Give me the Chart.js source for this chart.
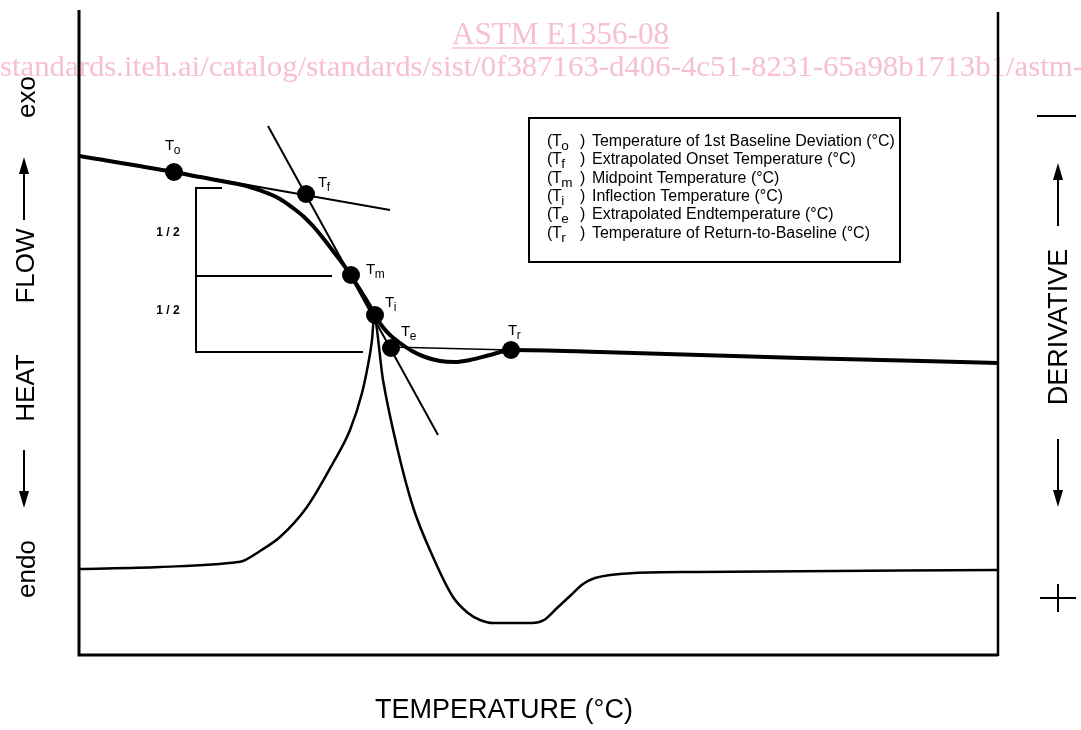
<!DOCTYPE html>
<html><head><meta charset="utf-8">
<script src="https://cdn.jsdelivr.net/npm/chart.js@4.4.0/dist/chart.umd.min.js"></script>
<style>html,body{margin:0;padding:0;background:#fff;overflow:hidden}canvas{display:block}</style>
</head><body>
<canvas id="c" width="1081" height="730" style="width:1081px;height:730px"></canvas>
<script>
// ---- values (arbitrary temperature / signal units) ----
const heatFlowT = [0,9.5,12.1,14.8,17.1,18.8,20.1,21.4,22.4,23.4,24.4,25.4,26.4,27.3,28.3,29.1,29.6,30.3,31.1,32.1,33.3,34.6,36.1,37.6,39.1,41.1,43.2,52.1,62.1,72.1,91.9];
const heatFlowY = [49.9,48.3,47.8,47.3,46.8,46.2,45.6,44.7,43.9,42.9,41.7,40.4,39.1,37.8,36.2,34.9,34.0,32.9,32.0,31.2,30.4,29.8,29.4,29.3,29.5,30.0,30.5,30.3,30.0,29.7,29.2];
const derivT = [0,8.1,15.9,16.4,18.1,20.1,22.8,25.4,27.1,28.3,28.9,29.3,29.5,30.4,31.8,33.4,35.4,37.4,38.9,40.1,41.4,45.3,46.5,47.8,49.1,50.4,51.6,55.5,61.8,91.9];
const derivY = [8.6,8.8,9.3,9.4,10.4,11.8,14.8,19.2,22.5,26.2,29.0,31.5,33.7,27.5,20.8,14.8,9.8,5.8,4.2,3.5,3.2,3.2,3.5,4.7,5.9,7.1,7.7,8.2,8.3,8.5];
const markerSubs = ['o','f','m','i','e','r'];
const markerT = [9.5,22.7,27.2,29.6,31.2,43.2];
const markerY = [48.3,46.1,38.0,34.0,30.7,30.5];
const onsetTangentT = [9.5,31.1];
const onsetTangentY = [48.3,44.5];
const steepTangentT = [18.9,35.9];
const steepTangentY = [52.9,22.0];
const endBaselineT = [31.1,43.2];
const endBaselineY = [30.8,30.5];
const bracketT = [14.3,11.7,11.7,28.4];
const bracketY = [46.7,46.7,30.3,30.3];
const halfLineT = [11.7,25.3];
const halfLineY = [37.9,37.9];
const halfLabel = '1 / 2';
const legendTexts = [
  'Temperature of 1st Baseline Deviation (°C)',
  'Extrapolated Onset Temperature (°C)',
  'Midpoint Temperature (°C)',
  'Inflection Temperature (°C)',
  'Extrapolated Endtemperature (°C)',
  'Temperature of Return-to-Baseline (°C)'
];
const xTitle = 'TEMPERATURE (°C)';
const leftWords = ['endo','HEAT','FLOW','exo'];
const rightWord = 'DERIVATIVE';
const stampTitle = 'ASTM E1356-08';
const stampUrl = 'standards.iteh.ai/catalog/standards/sist/0f387163-d406-4c51-8231-65a98b1713b1/astm-';

const pts = (xs, ys) => xs.map((x, i) => ({x: x, y: ys[i]}));
const SANS = '"Liberation Sans", Arial, Helvetica, sans-serif';
const SERIF = '"Liberation Serif", "Times New Roman", serif';

function arrow(ctx, x, yTail, yHead) {
  const dir = yHead > yTail ? 1 : -1;
  ctx.beginPath(); ctx.moveTo(x, yTail); ctx.lineTo(x, yHead - dir * 12); ctx.stroke();
  ctx.beginPath(); ctx.moveTo(x, yHead); ctx.lineTo(x - 5, yHead - dir * 17); ctx.lineTo(x + 5, yHead - dir * 17); ctx.closePath(); ctx.fill();
}
function rot(ctx, text, cx, cy, font) {
  ctx.save(); ctx.translate(cx, cy); ctx.rotate(-Math.PI / 2);
  ctx.font = font; ctx.textAlign = 'center'; ctx.textBaseline = 'middle';
  ctx.fillText(text, 0, 0); ctx.restore();
}
function tSub(ctx, x, y, sub, big, small) {
  ctx.textAlign = 'left'; ctx.textBaseline = 'alphabetic';
  ctx.font = big + 'px ' + SANS; ctx.fillText('T', x, y);
  const w = ctx.measureText('T').width;
  ctx.font = small + 'px ' + SANS; ctx.fillText(sub, x + w - 0.5, y + 4);
  return x + w + ctx.measureText(sub).width;
}

const deco = {
  id: 'deco',
  beforeDraw(chart) {
    const ctx = chart.ctx;
    ctx.save();
    ctx.fillStyle = '#fff'; ctx.fillRect(0, 0, chart.width, chart.height);
    ctx.fillStyle = 'rgb(247,192,206)'; ctx.strokeStyle = 'rgb(247,192,206)';
    ctx.textBaseline = 'alphabetic'; ctx.textAlign = 'left';
    ctx.font = '31px ' + SERIF;
    let w = ctx.measureText(stampTitle).width;
    ctx.save(); ctx.translate(452, 44); ctx.scale(217 / w, 1); ctx.fillText(stampTitle, 0, 0); ctx.restore();
    ctx.lineWidth = 1.5; ctx.beginPath(); ctx.moveTo(452, 48); ctx.lineTo(669, 48); ctx.stroke();
    ctx.font = '29px ' + SERIF;
    w = ctx.measureText(stampUrl).width;
    ctx.save(); ctx.translate(0, 76); ctx.scale(1083 / w, 1); ctx.fillText(stampUrl, 0, 0); ctx.restore();
    ctx.restore();
  },
  afterDraw(chart) {
    const ctx = chart.ctx, ca = chart.chartArea;
    const xs = chart.scales.x, ys = chart.scales.y;
    ctx.save();
    ctx.strokeStyle = '#000'; ctx.fillStyle = '#000';
    ctx.lineWidth = 3;
    ctx.beginPath(); ctx.moveTo(ca.left, ca.top); ctx.lineTo(ca.left, ca.bottom); ctx.lineTo(ca.right, ca.bottom); ctx.stroke();
    ctx.lineWidth = 2.5;
    ctx.beginPath(); ctx.moveTo(ca.right, ca.top + 2); ctx.lineTo(ca.right, ca.bottom + 1); ctx.stroke();

    const bx = xs.getPixelForValue(bracketT[1]);
    const yA = ys.getPixelForValue(bracketY[0]), yB = ys.getPixelForValue(halfLineY[0]), yC = ys.getPixelForValue(bracketY[2]);
    ctx.font = 'bold 12px ' + SANS; ctx.textAlign = 'center'; ctx.textBaseline = 'middle';
    ctx.fillText(halfLabel, bx - 28, (yA + yB) / 2 + 1);
    ctx.fillText(halfLabel, bx - 28, (yB + yC) / 2 - 3);

    const offs = [[-9,-22],[12,-7],[15,-1],[10,-8],[10,-12],[-3,-15]];
    markerSubs.forEach((s, i) => {
      const px = xs.getPixelForValue(markerT[i]), py = ys.getPixelForValue(markerY[i]);
      tSub(ctx, px + offs[i][0], py + offs[i][1], s, 15, 12);
    });

    ctx.lineWidth = 2;
    ctx.strokeRect(529, 118, 371, 144);
    ctx.font = '14px ' + SANS;
    const lw = ctx.measureText(legendTexts[0]).width;
    const fs = 14 * 303 / lw;
    legendTexts.forEach((t, i) => {
      const y = 146 + i * 18.3;
      ctx.font = fs + 'px ' + SANS; ctx.textAlign = 'left'; ctx.textBaseline = 'alphabetic';
      ctx.fillText('(', 547, y);
      tSub(ctx, 552, y, markerSubs[i], fs, fs * 0.85);
      ctx.font = fs + 'px ' + SANS;
      ctx.fillText(')', 580, y);
      ctx.fillText(t, 592, y);
    });

    const lf = '26px ' + SANS;
    rot(ctx, leftWords[0], 28, 569, lf);
    rot(ctx, leftWords[1], 27, 388, lf);
    rot(ctx, leftWords[2], 27, 266, lf);
    rot(ctx, leftWords[3], 28, 97, lf);
    ctx.lineWidth = 2;
    arrow(ctx, 24, 450, 508);
    arrow(ctx, 24, 220, 157);

    rot(ctx, rightWord, 1060, 327, '27px ' + SANS);
    arrow(ctx, 1058, 226, 163);
    arrow(ctx, 1058, 439, 507);
    ctx.beginPath(); ctx.moveTo(1037, 116); ctx.lineTo(1076, 116); ctx.stroke();
    ctx.beginPath(); ctx.moveTo(1040, 598); ctx.lineTo(1076, 598); ctx.moveTo(1058, 584); ctx.lineTo(1058, 612); ctx.stroke();

    ctx.font = '27px ' + SANS; ctx.textAlign = 'center'; ctx.textBaseline = 'middle';
    ctx.fillText(xTitle, 504, 711);
    ctx.restore();
  }
};

const thin = (data, w) => ({data, showLine: true, borderColor: '#000', borderWidth: w, pointRadius: 0, tension: 0, order: 3, fill: false});

new Chart(document.getElementById('c'), {
  type: 'scatter',
  data: {
    datasets: [
      {data: pts(markerT, markerY), showLine: false, pointRadius: 9, pointBackgroundColor: '#000', pointBorderColor: '#000', pointBorderWidth: 0, order: 0},
      {data: pts(heatFlowT, heatFlowY), showLine: true, borderColor: '#000', borderWidth: 4, pointRadius: 0, cubicInterpolationMode: 'monotone', order: 1},
      {data: pts(derivT, derivY), showLine: true, borderColor: '#000', borderWidth: 2.5, pointRadius: 0, cubicInterpolationMode: 'monotone', order: 2},
      thin(pts(onsetTangentT, onsetTangentY), 2),
      thin(pts(steepTangentT, steepTangentY), 2),
      thin(pts(endBaselineT, endBaselineY), 1.5),
      thin(pts(bracketT, bracketY), 2),
      thin(pts(halfLineT, halfLineY), 2)
    ]
  },
  options: {
    responsive: false,
    animation: false,
    layout: {padding: {left: 79, right: 83, top: 10, bottom: 75}},
    plugins: {legend: {display: false}, tooltip: {enabled: false}},
    scales: {
      x: {type: 'linear', min: 0, max: 91.9, display: false},
      y: {type: 'linear', min: 0, max: 64.5, display: false}
    }
  },
  plugins: [deco]
});
</script>
</body></html>
